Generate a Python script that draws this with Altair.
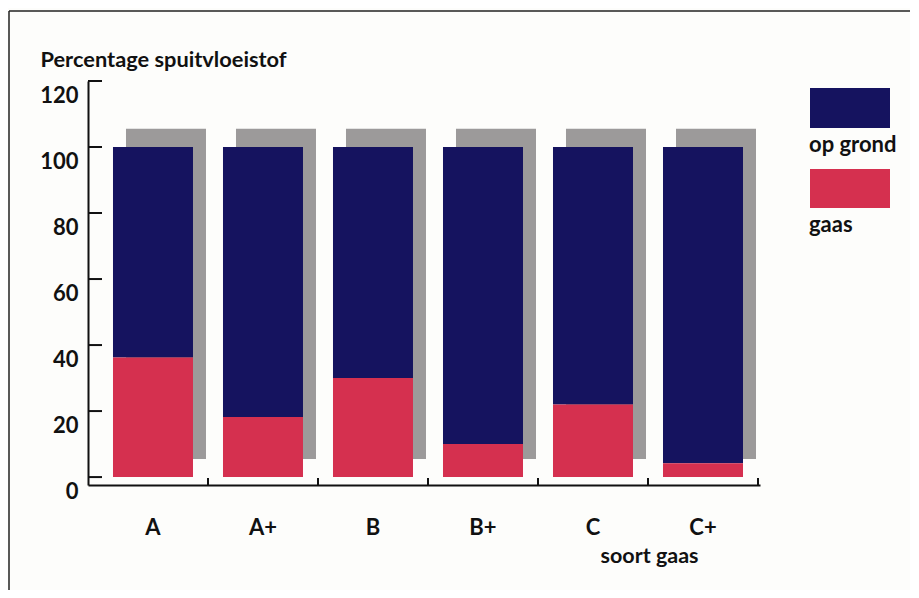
import altair as alt
import pandas as pd

categories = ["A", "A+", "B", "B+", "C", "C+"]
gaas = [36.2, 18.2, 30.0, 10.0, 22.0, 4.2]
totaal = [100, 100, 100, 100, 100, 100]
schaduw_onder = [5.5, 5.5, 5.5, 5.5, 5.5, 5.5]
schaduw_boven = [105.5, 105.5, 105.5, 105.5, 105.5, 105.5]
y_ticks = [0, 20, 40, 60, 80, 100, 120]
legend_labels = ["op grond", "gaas"]

NAVY = "#15135f"
RED = "#d5304f"
GRAY = "#9c9a9a"
FONT = "Lato"

df = pd.DataFrame({
    "soort": categories,
    "gaas": gaas,
    "nul": [0] * len(categories),
    "totaal": totaal,
    "s0": schaduw_onder,
    "s1": schaduw_boven,
})
ticks_df = pd.DataFrame({"v": y_ticks})
one = pd.DataFrame({"a": [0]})

W, H = 672, 404

xscale = alt.Scale(domain=categories, paddingInner=0, paddingOuter=0.0545, align=0.833)
yscale = alt.Scale(domain=[-2.4, 120], nice=False, zero=False)

xaxis = alt.Axis(
    title="soort gaas", labelAngle=0, ticks=False, domain=True, domainColor="#111",
    domainWidth=2, labelFont=FONT, labelFontSize=22, labelFontWeight="bold",
    labelColor="#111", labelBaseline="middle", labelPadding=42,
    titleFont=FONT, titleFontSize=21.5, titleFontWeight="bold", titleColor="#111",
    titleX=561, titleY=71, titleAlign="center", titleBaseline="middle", grid=False,
)
yaxis = alt.Axis(
    title="Percentage spuitvloeistof", values=y_ticks, ticks=False, domain=True,
    domainColor="#111", domainWidth=2, labelFont=FONT, labelFontSize=22,
    labelFontWeight="bold", labelColor="#111", labelPadding=10, labelOffset=14,
    titleFont=FONT, titleFontSize=21.8, titleFontWeight="bold", titleColor="#111",
    titleAngle=0, titleX=-48, titleY=-22, titleAlign="left", titleBaseline="middle",
    grid=False,
)

def X():
    return alt.X("soort:N", scale=xscale, axis=xaxis, sort=categories)

shadow = alt.Chart(df).mark_bar(size=80, xOffset=13, color=GRAY).encode(
    x=X(), y=alt.Y("s0:Q", scale=yscale, axis=yaxis), y2="s1:Q"
)
grond = alt.Chart(df).mark_bar(size=80, color=NAVY).encode(
    x=X(), y=alt.Y("gaas:Q", scale=yscale, axis=yaxis), y2="totaal:Q"
)
rood = alt.Chart(df).mark_bar(size=80, color=RED).encode(
    x=X(), y=alt.Y("nul:Q", scale=yscale, axis=yaxis), y2="gaas:Q"
)
yt = alt.Chart(ticks_df).mark_rule(color="#111", strokeWidth=2).encode(
    y=alt.Y("v:Q", scale=yscale, axis=yaxis), x=alt.value(0), x2=alt.value(14)
)
xt = alt.Chart(df).mark_rule(color="#111", strokeWidth=2, xOffset=55).encode(
    x=X(), y=alt.value(H), y2=alt.value(H - 7)
)

leg_rect1 = alt.Chart(one).mark_rect(color=NAVY).encode(
    x=alt.value(722), x2=alt.value(802), y=alt.value(7), y2=alt.value(47)
)
leg_rect2 = alt.Chart(one).mark_rect(color=RED).encode(
    x=alt.value(722), x2=alt.value(802), y=alt.value(88), y2=alt.value(127)
)
leg_txt1 = alt.Chart(one).mark_text(
    text=legend_labels[0], align="left", baseline="middle", font=FONT,
    fontSize=22, fontWeight="bold", color="#111"
).encode(x=alt.value(721), y=alt.value(64))
leg_txt2 = alt.Chart(one).mark_text(
    text=legend_labels[1], align="left", baseline="middle", font=FONT,
    fontSize=22, fontWeight="bold", color="#111"
).encode(x=alt.value(721), y=alt.value(144))

frame_v = alt.Chart(one).mark_rule(color="#222", strokeWidth=1.5).encode(
    x=alt.value(-79), y=alt.value(-70), y2=alt.value(540)
)
frame_h = alt.Chart(one).mark_rule(color="#222", strokeWidth=1.5).encode(
    x=alt.value(-79), x2=alt.value(850), y=alt.value(-70)
)

chart = alt.layer(
    shadow, grond, rood, yt, xt, leg_rect1, leg_rect2, leg_txt1, leg_txt2, frame_v, frame_h
).properties(
    width=W, height=H, autosize="none",
    padding={"left": 80, "top": 73, "right": 150, "bottom": 105},
    background="#fdfdfb",
).configure_view(stroke=None)

chart.save("out.html", embed_options={"renderer": "svg", "actions": False})
